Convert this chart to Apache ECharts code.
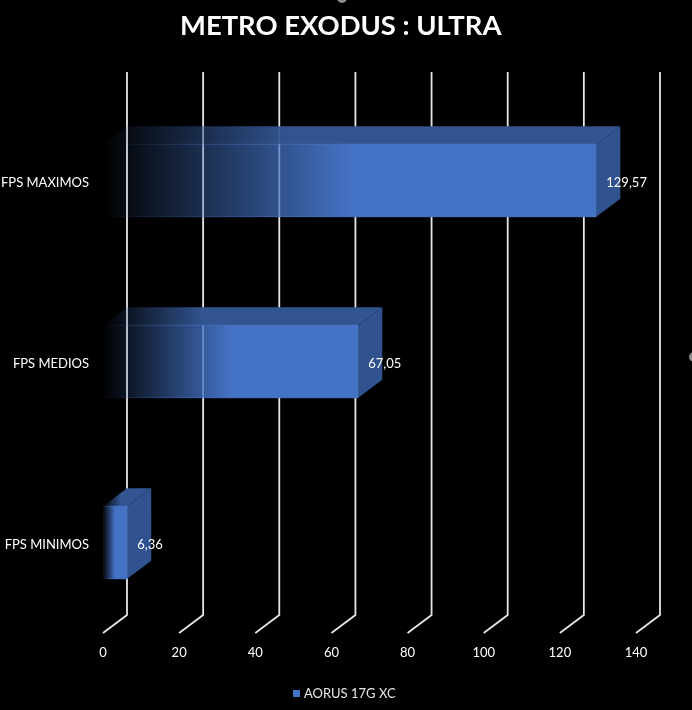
<!DOCTYPE html>
<html>
<head>
<meta charset="utf-8">
<style>html,body{margin:0;padding:0;background:#000}#c{width:692px;height:710px}</style>
<script src="https://cdn.jsdelivr.net/npm/echarts@6/dist/echarts.min.js"></script>
</head>
<body>
<div id="c"></div>
<script>
const chartTitle = 'METRO EXODUS : ULTRA';
const seriesName = 'AORUS 17G XC';
const categories = ['FPS MINIMOS', 'FPS MEDIOS', 'FPS MAXIMOS'];
const fpsValues = [6.36, 67.05, 129.57];
const axisTicks = [0, 20, 40, 60, 80, 100, 120, 140];

const DX = 24, DY = 18;
const FONT = 'Lato, "Open Sans", sans-serif';
const fade = (r, g, b, stop) => new echarts.graphic.LinearGradient(0, 0, 1, 0, [
  { offset: 0, color: `rgba(${r},${g},${b},0)` },
  { offset: stop, color: `rgba(${r},${g},${b},1)` },
  { offset: 1, color: `rgba(${r},${g},${b},1)` }
]);

const chart = echarts.init(document.getElementById('c'), null, { renderer: 'canvas' });
chart.setOption({
  backgroundColor: '#000',
  animation: false,
  title: {
    text: chartTitle, left: 175, top: 8,
    textStyle: { color: '#fff', fontFamily: FONT, fontWeight: 'bold', fontSize: 27.4 }
  },
  legend: {
    data: [seriesName], left: 288, top: 682, itemWidth: 7, itemHeight: 7, itemGap: 4,
    icon: 'rect',
    textStyle: { color: '#e8e8e8', fontFamily: FONT, fontSize: 13, padding: [0, 0, 0, -1] }
  },
  graphic: [
    { type: 'circle', shape: { cx: 342, cy: -2, r: 5 }, style: { fill: '#8c8c8c' }, silent: true },
    { type: 'circle', shape: { cx: 694, cy: 357, r: 5 }, style: { fill: '#8c8c8c' }, silent: true }
  ],
  grid: { left: 103, top: 90, width: 533, height: 543, outerBoundsMode: 'none', containLabel: false },
  xAxis: {
    type: 'value', min: 0, max: 140, interval: 20,
    axisLine: { show: false }, axisTick: { show: false }, splitLine: { show: false },
    axisLabel: { color: '#fff', fontFamily: FONT, fontSize: 13, margin: 13 }
  },
  yAxis: {
    type: 'category', data: categories,
    axisLine: { show: false }, axisTick: { show: false },
    axisLabel: {
      margin: 14, formatter: '{a|{value}}',
      rich: { a: { color: '#fff', fontFamily: FONT, fontSize: 13, padding: [4, 0, 0, 0] } }
    }
  },
  series: [
    {
      type: 'custom', name: 'grid', silent: true, z: 1,
      data: axisTicks.map(t => [t]),
      encode: { x: 0 },
      renderItem(params, api) {
        const x = api.coord([api.value(0), 0])[0];
        const cs = params.coordSys;
        const yb = cs.y + cs.height;
        return {
          type: 'polyline',
          shape: { points: [[x + DX, cs.y - DY], [x + DX, yb - DY], [x, yb]] },
          style: { stroke: '#e6e6e6', lineWidth: 1.8, fill: 'none' }
        };
      }
    },
    {
      type: 'custom', name: seriesName, z: 2,
      itemStyle: { color: '#4472C4' },
      data: fpsValues.map((v, i) => [v, i]),
      encode: { x: 0, y: 1 },
      renderItem(params, api) {
        const v = api.value(0);
        const p = api.coord([v, api.value(1)]);
        const x0 = api.coord([0, api.value(1)])[0];
        const h = api.size([0, 1])[1] * 0.4;
        const t = p[1] - h / 2, b = p[1] + h / 2, x1 = p[0];
        return {
          type: 'group',
          children: [
            { type: 'polygon',
              shape: { points: [[x0, t], [x1, t], [x1 + DX, t - DY], [x0 + DX, t - DY]] },
              style: { fill: fade(50, 84, 144, 0.36) } },
            { type: 'rect',
              shape: { x: x0, y: t, width: x1 - x0, height: b - t },
              style: { fill: fade(68, 114, 196, 0.5), stroke: fade(74, 118, 198, 0.5), lineWidth: 1 } },
            { type: 'polygon',
              shape: { points: [[x1, t], [x1 + DX, t - DY], [x1 + DX, b - DY], [x1, b]] },
              style: { fill: '#30538F' } },
            { type: 'text',
              style: { x: x1 + 10, y: p[1] + 2, text: String(v).replace('.', ','),
                fill: '#fff', font: '13px ' + FONT, textAlign: 'left', textVerticalAlign: 'middle' } }
          ]
        };
      }
    }
  ]
});
</script>
</body>
</html>
